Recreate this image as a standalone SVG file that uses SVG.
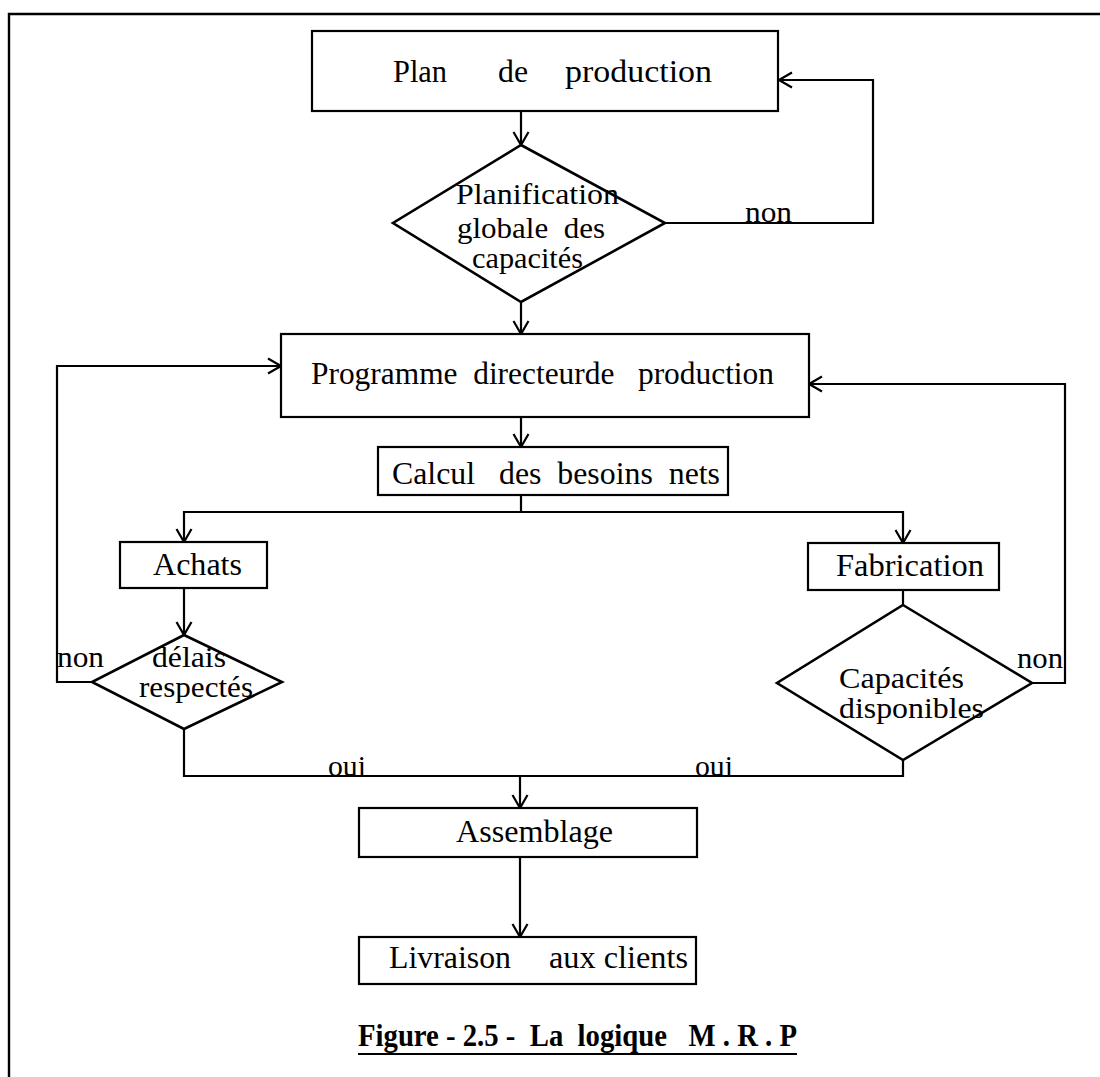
<svg xmlns="http://www.w3.org/2000/svg" width="1100" height="1077" viewBox="0 0 1100 1077">
  <defs>
    <style>
      .box { fill: #fff; stroke: #000; stroke-width: 2.2; }
      .dia { fill: #fff; stroke: #000; stroke-width: 2.6; stroke-linejoin: miter; }
      .wire { fill: none; stroke: #000; stroke-width: 2.2; }
      .frame { fill: none; stroke: #000; stroke-width: 2.4; }
      text { font-family: "Liberation Serif", "Times New Roman", serif; font-size: 31px; fill: #000; white-space: pre; }
      .lbl { font-size: 29px; }
      .cap { font-weight: bold; font-size: 31px; }
    </style>
    <marker id="arr" markerUnits="userSpaceOnUse" markerWidth="20" markerHeight="20" viewBox="-14 -10 16 20" refX="0" refY="0" orient="auto">
      <path d="M-13,-7.5 L0,0 L-13,7.5" fill="none" stroke="#000" stroke-width="2.2"/>
    </marker>
  </defs>

  <rect width="1100" height="1077" fill="#fff"/>

  <!-- page frame -->
  <path class="frame" d="M9,1077 V14 H1100"/>

  <!-- connectors -->
  <g id="connectors">
    <line class="wire" x1="521" y1="111" x2="521" y2="145" marker-end="url(#arr)"/>
    <line class="wire" x1="521" y1="302" x2="521" y2="334" marker-end="url(#arr)"/>
    <path class="wire" d="M665,223 H873 V80 H779" marker-end="url(#arr)"/>
    <line class="wire" x1="521" y1="417" x2="521" y2="447" marker-end="url(#arr)"/>
    <path class="wire" d="M521,495 V512 H184 V542" marker-end="url(#arr)"/>
    <path class="wire" d="M521,512 H903 V543" marker-end="url(#arr)"/>
    <line class="wire" x1="184" y1="588" x2="184" y2="635" marker-end="url(#arr)"/>
    <path class="wire" d="M92,682 H57 V366 H281" marker-end="url(#arr)"/>
    <line class="wire" x1="903" y1="590" x2="903" y2="605"/>
    <path class="wire" d="M1032,683 H1065 V384 H809" marker-end="url(#arr)"/>
    <path class="wire" d="M184,729 V776 H903 V760"/>
    <line class="wire" x1="520" y1="776" x2="520" y2="808" marker-end="url(#arr)"/>
    <line class="wire" x1="520" y1="857" x2="520" y2="937" marker-end="url(#arr)"/>
    <text class="lbl" x="745" y="222" textLength="47" lengthAdjust="spacingAndGlyphs">non</text>
    <text class="lbl" x="57" y="667" textLength="47" lengthAdjust="spacingAndGlyphs">non</text>
    <text class="lbl" x="1017" y="668" textLength="46" lengthAdjust="spacingAndGlyphs">non</text>
    <text class="lbl" x="328" y="776" textLength="38" lengthAdjust="spacingAndGlyphs">oui</text>
    <text class="lbl" x="695" y="776" textLength="38" lengthAdjust="spacingAndGlyphs">oui</text>
  </g>

  <g id="plan-production">
    <rect class="box" x="312" y="31" width="466" height="80"/>
    <text x="393" y="82" textLength="54" lengthAdjust="spacingAndGlyphs">Plan</text>
    <text x="498" y="82" textLength="30" lengthAdjust="spacingAndGlyphs">de</text>
    <text x="565" y="82" textLength="147" lengthAdjust="spacingAndGlyphs">production</text>
  </g>

  <g id="planification-globale">
    <polygon class="dia" points="521,145 665,223 521,302 393,223"/>
    <text class="lbl" x="456" y="204" textLength="163" lengthAdjust="spacingAndGlyphs">Planification</text>
    <text class="lbl" x="457" y="238" textLength="148" lengthAdjust="spacingAndGlyphs">globale  des</text>
    <text class="lbl" x="472" y="268" textLength="111" lengthAdjust="spacingAndGlyphs">capacités</text>
  </g>

  <g id="programme-directeur">
    <rect class="box" x="281" y="334" width="528" height="83"/>
    <text x="311" y="384" textLength="463" lengthAdjust="spacingAndGlyphs">Programme  directeurde   production</text>
  </g>

  <g id="calcul-besoins">
    <rect class="box" x="378" y="447" width="350" height="48"/>
    <text x="392" y="484" textLength="328" lengthAdjust="spacingAndGlyphs">Calcul   des  besoins  nets</text>
  </g>

  <g id="achats">
    <rect class="box" x="120" y="542" width="147" height="46"/>
    <text x="153" y="575" textLength="89" lengthAdjust="spacingAndGlyphs">Achats</text>
  </g>

  <g id="delais-respectes">
    <polygon class="dia" points="184,635 282,682 184,729 92,682"/>
    <text class="lbl" x="152" y="667" textLength="74" lengthAdjust="spacingAndGlyphs">délais</text>
    <text class="lbl" x="139" y="697" textLength="114" lengthAdjust="spacingAndGlyphs">respectés</text>
  </g>

  <g id="fabrication">
    <rect class="box" x="808" y="543" width="191" height="47"/>
    <text x="836" y="576" textLength="148" lengthAdjust="spacingAndGlyphs">Fabrication</text>
  </g>

  <g id="capacites-disponibles">
    <polygon class="dia" points="903,605 1032,683 903,760 777,683"/>
    <text class="lbl" x="839" y="688" textLength="125" lengthAdjust="spacingAndGlyphs">Capacités</text>
    <text class="lbl" x="839" y="718" textLength="145" lengthAdjust="spacingAndGlyphs">disponibles</text>
  </g>

  <g id="assemblage">
    <rect class="box" x="359" y="808" width="338" height="49"/>
    <text x="456" y="842" textLength="157" lengthAdjust="spacingAndGlyphs">Assemblage</text>
  </g>

  <g id="livraison">
    <rect class="box" x="359" y="937" width="337" height="47"/>
    <text x="389" y="968" textLength="122" lengthAdjust="spacingAndGlyphs">Livraison</text>
    <text x="549" y="968" textLength="139" lengthAdjust="spacingAndGlyphs">aux clients</text>
  </g>

  <!-- figure caption -->
  <g id="caption">
    <text class="cap" x="358" y="1046" textLength="439" lengthAdjust="spacingAndGlyphs">Figure - 2.5 -  La  logique   M . R . P</text>
    <line x1="358" y1="1054" x2="797" y2="1054" stroke="#000" stroke-width="2"/>
  </g>
</svg>
